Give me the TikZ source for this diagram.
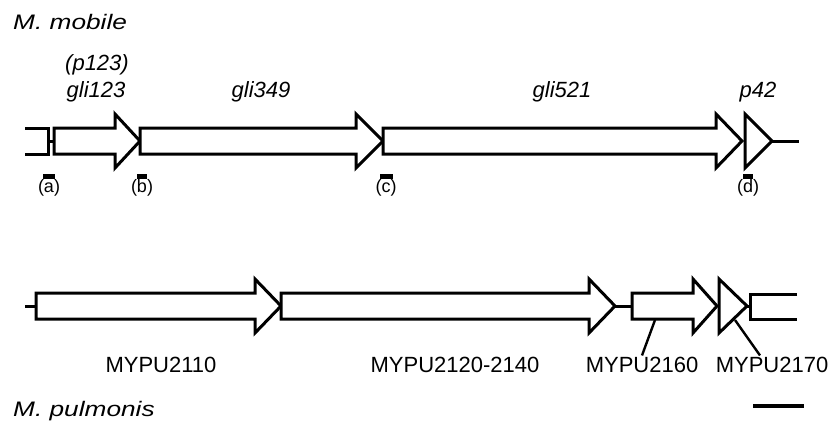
\documentclass[tikz,border=0pt]{standalone}
\usepackage{fontspec}
\setmainfont{Liberation Sans}
\newfontfamily\specfont[FakeStretch=1.25]{Liberation Sans}
\usetikzlibrary{calc}

% gene arrow: start, head base, tip, centre line
\newcommand{\genearrow}[4]{%
  \draw[gene] (#1,#4-13) -- (#2,#4-13) -- (#2,#4-27) -- (#3,#4)
    -- (#2,#4+27) -- (#2,#4+13) -- (#1,#4+13) -- cycle;}
% short gene drawn as a bare triangle: base, tip, centre line
\newcommand{\genehead}[3]{%
  \draw[gene] (#1,#3-27) -- (#2,#3) -- (#1,#3+27) -- cycle;}

\begin{document}
\begin{tikzpicture}[
    x=1pt, y=-1pt,
    gene/.style={draw=black, line width=3pt, fill=white, line join=miter},
    spacer/.style={draw=black, line width=3pt},
    bar/.style={fill=black},
    genename/.style={font=\fontsize{22}{26}\selectfont\itshape, inner sep=1pt, anchor=base},
    locus/.style={font=\fontsize{22}{26}\selectfont, inner sep=1pt, anchor=base},
    site/.style={font=\fontsize{18}{20}\selectfont, inner sep=1pt},
    species/.style={font=\fontsize{21}{24}\selectfont\specfont\itshape, inner sep=0pt, anchor=base west},
    leader/.style={draw=black, line width=2.4pt}
]
    \useasboundingbox (0,0) rectangle (828,423);

    % Species
    \node[species] (mobile) at (13,29) {M. mobile};
    \node[species] (pulmonis) at (13,416) {M. pulmonis};

    % M. mobile locus
    \draw[spacer] (48,141) -- (54,141);
    \draw[spacer] (770,141) -- (799,141);
    \draw[gene, fill=none] (25,128) -- (48,128) -- (48,154) -- (25,154);
    \genearrow{54}{115}{140}{141}
    \genearrow{140}{356}{383}{141}
    \genearrow{383}{716}{742}{141}
    \genehead{745}{772}{141}

    \node[genename] (p123) at (97,70) {(p123)};
    \node[genename] (gli123) at (96,97) {gli123};
    \node[genename] (gli349) at (261,97) {gli349};
    \node[genename] (gli521) at (562,97) {gli521};
    \node[genename] (p42) at (758,97) {p42};

    % Probe sites
    \fill[bar] (43,174) rectangle (55,179);
    \fill[bar] (137,174) rectangle (147,179);
    \fill[bar] (380,174) rectangle (393,179);
    \fill[bar] (743,174) rectangle (753,179);
    \node[site] (sa) at (49,188) {(a)};
    \node[site] (sb) at (142,188) {(b)};
    \node[site] (sc) at (386,188) {(c)};
    \node[site] (sd) at (748,188) {(d)};

    % M. pulmonis locus
    \draw[spacer] (25,306) -- (36,306);
    \draw[spacer] (615,306) -- (632,306);
    \draw[spacer] (747,306) -- (750,306);
    \genearrow{36}{255}{281}{306}
    \genearrow{281}{589}{615}{306}
    \genearrow{632}{693}{717}{306}
    \genehead{719}{747}{306}
    \draw[gene, fill=none] (797,294) -- (750,294) -- (750,319) -- (797,319);

    \node[locus] (m2110) at (161,372) {MYPU2110};
    \node[locus] (m2120) at (455,372) {MYPU2120-2140};
    \node[locus] (m2160) at (642,372) {MYPU2160};
    \node[locus] (m2170) at (772,372) {MYPU2170};

    % Leaders
    \coordinate (g2160) at (655,320);
    \coordinate (g2170) at (735,320);
    \draw[leader] (g2160) -- (m2160.north);
    \draw[leader] (g2170) -- ($(m2170.north)+(-12,0)$);

    % Scale bar
    \fill[bar] (753,404) rectangle (804,408);
\end{tikzpicture}
\end{document}
